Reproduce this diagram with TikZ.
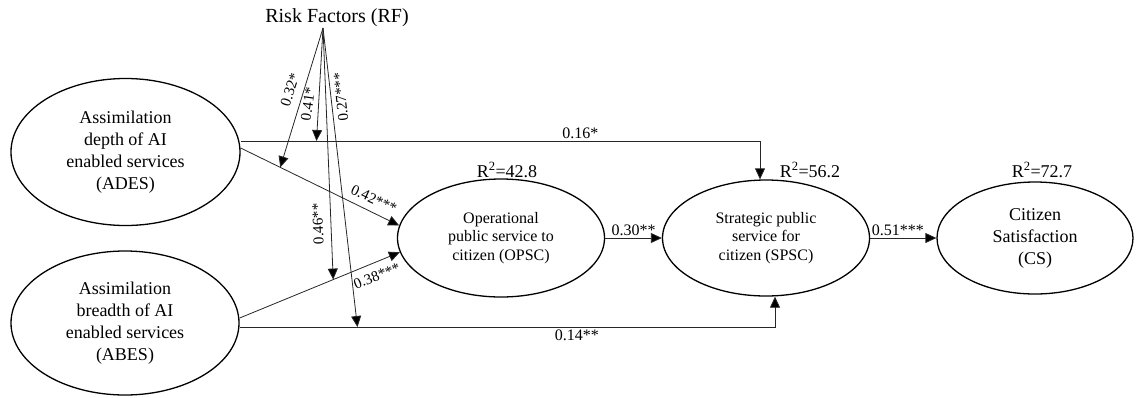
\documentclass[tikz,border=0pt]{standalone}
\usepackage{fontspec}
\setmainfont{Liberation Serif}
\usetikzlibrary{shapes.geometric,arrows.meta}

\begin{document}
\begin{tikzpicture}[x=1pt,y=-1pt,
  construct/.style={draw, ellipse, line width=1.3pt, inner sep=0pt, align=center},
  bigtext/.style={font=\fontsize{18}{22}\selectfont},
  midtext/.style={font=\fontsize{16}{18.5}\selectfont},
  link/.style={draw=black!85, line width=0.8pt, -{Triangle[length=11pt,width=10pt,fill=black]}},
  coef/.style={font=\fontsize{16}{18}\selectfont, inner sep=2pt},
  tiltcoef/.style={font=\fontsize{15}{17}\selectfont, inner sep=0pt},
]
\useasboundingbox (0,0) rectangle (1139,397);

% constructs
\node[construct,bigtext,minimum width=229pt,minimum height=147pt] (ADES) at (125.5,152)
  {Assimilation\\depth of AI\\enabled services\\(ADES)};
\node[construct,bigtext,minimum width=228pt,minimum height=144pt] (ABES) at (125,323)
  {Assimilation\\breadth of AI\\enabled services\\(ABES)};
\node[construct,midtext,minimum width=207pt,minimum height=118pt] (OPSC) at (501,238)
  {Operational\\public service to\\citizen (OPSC)};
\node[construct,midtext,minimum width=207pt,minimum height=116pt] (SPSC) at (766,238)
  {Strategic public\\service for\\citizen (SPSC)};
\node[construct,bigtext,minimum width=196pt,minimum height=112pt] (CS) at (1035,238)
  {Citizen\\Satisfaction\\(CS)};

% moderator
\node[font=\fontsize{20}{24}\selectfont] (RF) at (337,18) {Risk Factors (RF)};
\coordinate (fan) at (323,28);

% explained variance
\node[bigtext,anchor=base] (r1) at (507,177) {R\textsuperscript{2}=42.8};
\node[bigtext,anchor=base] (r2) at (810,177) {R\textsuperscript{2}=56.2};
\node[bigtext,anchor=base] (r3) at (1042,177) {R\textsuperscript{2}=72.7};

% structural paths
\draw[link] ([yshift=4pt]ADES.east) -- (OPSC.173) coordinate[pos=0.25] (m1);
\draw[link] ([yshift=5pt]ABES.east) -- (OPSC.188) coordinate[pos=0.584] (m3);
\draw[link] ([yshift=11pt]ADES.east) -| ([xshift=-6pt]SPSC.north)
  coordinate[pos=0.073] (m2)
  node[coef,above,pos=0.327] {0.16*};
\draw[link] ([yshift=-4pt]ABES.east) -| ([xshift=9pt]SPSC.south)
  coordinate[pos=0.11] (m4)
  node[coef,below,pos=0.315] {0.14**};
\draw[link] (OPSC) -- (SPSC) node[coef,above,midway] {0.30**};
\draw[link] (SPSC) -- (CS) node[coef,above,pos=0.42] {0.51***};

% moderating effects
\draw[link] (fan) -- (m1);
\draw[link] (fan) -- (m2);
\draw[link] (fan) -- (m3);
\draw[link] (fan) -- (m4);

% path coefficients along the slanted connectors
\node[tiltcoef,rotate=-25] (c42) at (374,199) {0.42***};
\node[tiltcoef,rotate=22]  (c38) at (377,276) {0.38***};
\node[tiltcoef,rotate=72]  (c32) at (290,90)  {0.32*};
\node[tiltcoef,rotate=82]  (c41) at (308,104) {0.41*};
\node[tiltcoef,rotate=96]  (c27) at (341,97)  {0.27***};
\node[tiltcoef,rotate=92]  (c46) at (318,224) {0.46**};
\end{tikzpicture}
\end{document}
